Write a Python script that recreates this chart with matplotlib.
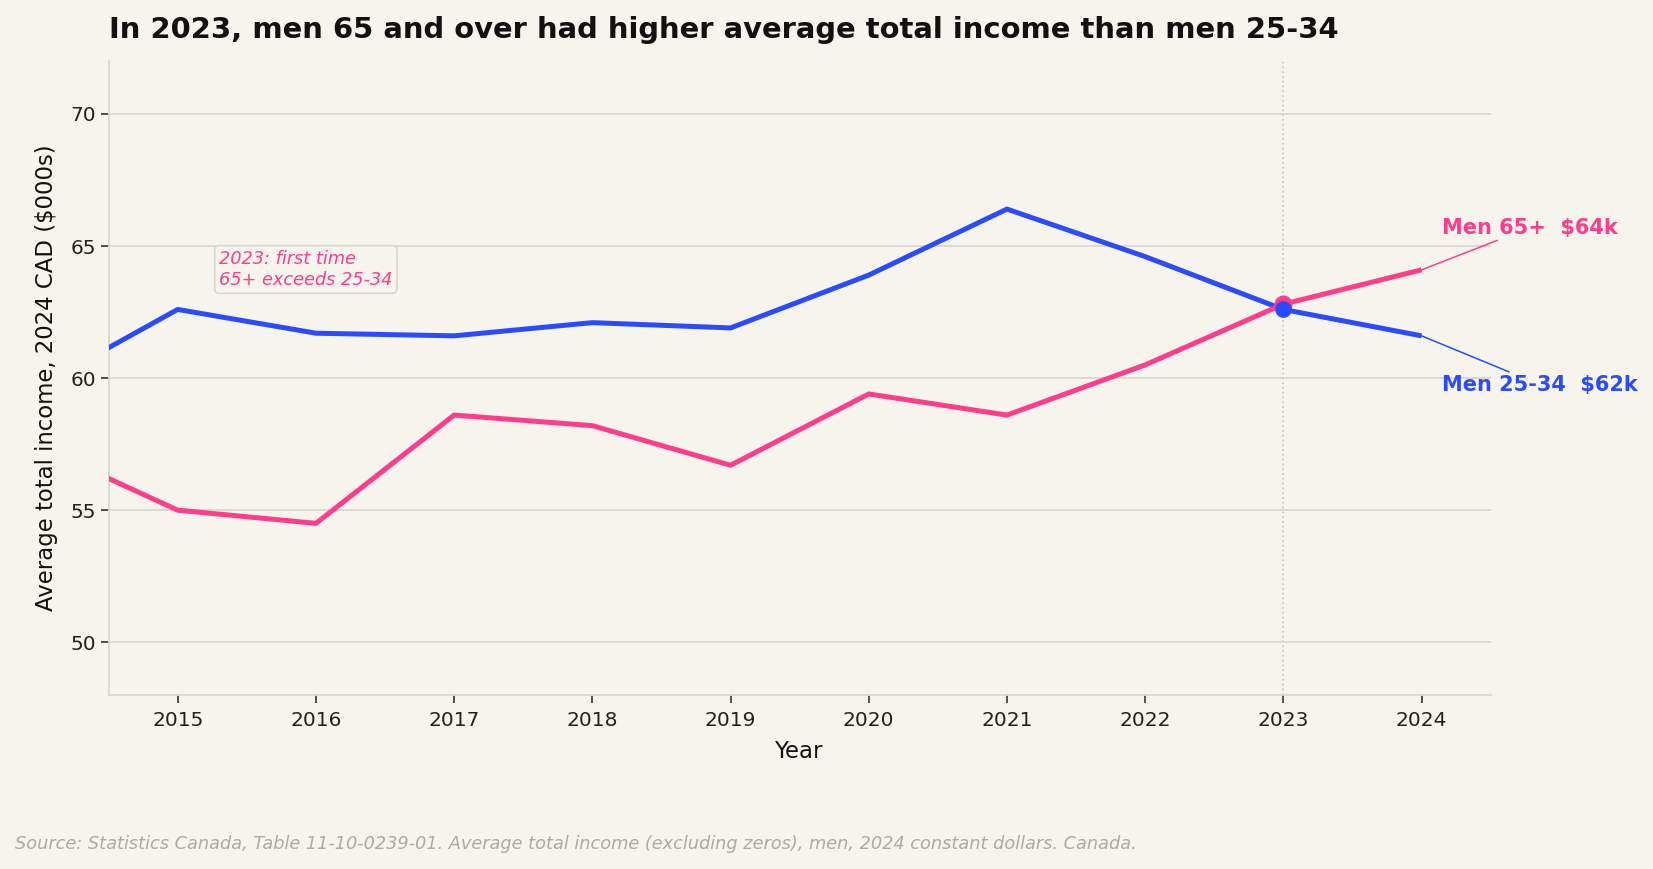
import matplotlib
matplotlib.use("Agg")
import matplotlib.pyplot as plt

# data ($000s, 2024 constant dollars)
years = [2014, 2015, 2016, 2017, 2018, 2019, 2020, 2021, 2022, 2023, 2024]
men_25_34 = [59.7, 62.6, 61.7, 61.6, 62.1, 61.9, 63.9, 66.4, 64.6, 62.6, 61.6]
men_65_plus = [57.4, 55.0, 54.5, 58.6, 58.2, 56.7, 59.4, 58.6, 60.5, 62.8, 64.1]
x_ticks = list(range(2015, 2025))
y_ticks = [50, 55, 60, 65, 70]

bg = "#F7F4EE"
blue = "#2B4BFF"
pink = "#FF3D8A"
grid_col = "#DCD7CD"

fig = plt.figure(figsize=(16.53, 8.69), dpi=100, facecolor=bg)
ax = fig.add_axes([0.0657, 0.2002, 0.8361, 0.7294])
ax.set_facecolor(bg)

ax.plot(years, men_25_34, color=blue, lw=3.6, solid_capstyle="butt", zorder=3)
ax.plot(years, men_65_plus, color=pink, lw=3.6, solid_capstyle="butt", zorder=3)

# crossover year
i23 = years.index(2023)
ax.axvline(2023, color="#CFCAC0", lw=1.3, ls=":", zorder=1)
ax.plot(2023, men_65_plus[i23], "o", color=pink, ms=12, zorder=4)
ax.plot(2023, men_25_34[i23], "o", color=blue, ms=11, zorder=5)

# end labels
ax.annotate(f"Men 65+  ${men_65_plus[-1]:.0f}k", xy=(years[-1], men_65_plus[-1]),
            xytext=(2024.15, 65.7), ha="left", va="center", color=pink,
            fontsize=15, fontweight="bold", annotation_clip=False,
            arrowprops=dict(arrowstyle="-", color=pink, lw=1.1, shrinkA=0, shrinkB=0))
ax.annotate(f"Men 25-34  ${men_25_34[-1]:.0f}k", xy=(years[-1], men_25_34[-1]),
            xytext=(2024.15, 59.75), ha="left", va="center", color=blue,
            fontsize=15, fontweight="bold", annotation_clip=False,
            arrowprops=dict(arrowstyle="-", color=blue, lw=1.1, shrinkA=0, shrinkB=0))

ax.text(2015.3, 64.85, "2023: first time\n65+ exceeds 25-34", color=pink,
        fontsize=12.8, style="italic", ha="left", va="top", linespacing=1.2,
        bbox=dict(boxstyle="round,pad=0.25", facecolor=bg, edgecolor=grid_col, lw=1.3))

ax.set_xlim(2014.5, 2024.5)
ax.set_ylim(48, 72)
ax.set_xticks(x_ticks)
ax.set_yticks(y_ticks)
ax.grid(axis="y", color=grid_col, lw=1.3, zorder=0)
ax.set_axisbelow(True)

for s in ["top", "right"]:
    ax.spines[s].set_visible(False)
for s in ["left", "bottom"]:
    ax.spines[s].set_color(grid_col)
    ax.spines[s].set_linewidth(1.3)
ax.tick_params(labelsize=14.5, colors="#222222", length=5.5, width=1.1)
ax.tick_params(axis="x", pad=6)

ax.set_xlabel("Year", fontsize=16.4, color="#111111", labelpad=7)
ax.set_ylabel("Average total income, 2024 CAD ($000s)", fontsize=16.4, color="#111111", labelpad=9)
ax.set_title("In 2023, men 65 and over had higher average total income than men 25-34",
             loc="left", fontsize=20.9, fontweight="bold", color="#111111", pad=17)

fig.text(0.009, 0.029, "Source: Statistics Canada, Table 11-10-0239-01. Average total income "
         "(excluding zeros), men, 2024 constant dollars. Canada.",
         fontsize=12.75, style="italic", color="#AAAAAA", ha="left", va="center")

fig.savefig("out.png", dpi=100, facecolor=bg)
